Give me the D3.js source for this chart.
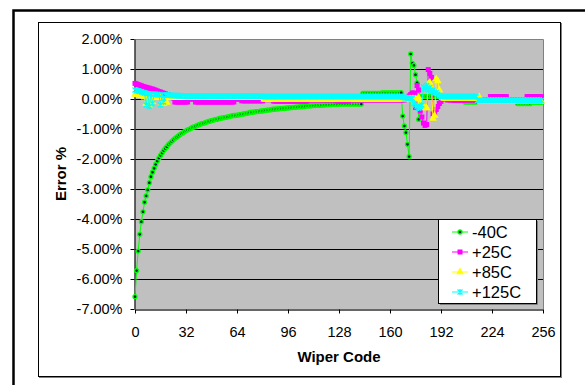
<!DOCTYPE html>
<html>
<head>
  <script src="https://d3js.org/d3.v7.min.js"></script>
  <style>
    html, body { margin: 0; padding: 0; background: #fff; overflow: hidden; }
    #chart { width: 585px; height: 385px; position: relative; }
    #chart svg { display: block; }
    .axis text { font-family: Arial, "Liberation Sans", sans-serif; font-size: 14.5px; fill: #000; }
    .axisLabel { font-family: Arial, "Liberation Sans", sans-serif; font-size: 15px; font-weight: bold; }
    .legendText { font-family: Arial, "Liberation Sans", sans-serif; font-size: 16.5px; }
  </style>
</head>
<body>
  <div id="chart"></div>
  <script>
    /*
    DATA (wiper code 0..255 is the index into each series, error in %)
    */
    var xTicks = [0, 32, 64, 96, 128, 160, 192, 224, 256];
    var yTicks = [2, 1, 0, -1, -2, -3, -4, -5, -6, -7];
    var seriesNames = ["-40C", "+25C", "+85C", "+125C"];

    var m40 = [
      -6.59,-5.72,-5.07,-4.51,-4.09,-3.76,-3.44,-3.23,-3.03,-2.79,-2.59,-2.44,-2.31,-2.18,-2.07,-1.97,
      -1.88,-1.80,-1.72,-1.65,-1.59,-1.52,-1.47,-1.42,-1.37,-1.32,-1.28,-1.24,-1.20,-1.16,-1.13,-1.09,
      -1.06,-1.03,-1.01,-0.98,-0.95,-0.93,-0.91,-0.88,-0.86,-0.84,-0.82,-0.81,-0.79,-0.77,-0.75,-0.74,
      -0.72,-0.71,-0.69,-0.68,-0.67,-0.65,-0.64,-0.63,-0.62,-0.61,-0.60,-0.59,-0.57,-0.56,-0.55,-0.55,
      -0.54,-0.53,-0.52,-0.51,-0.50,-0.49,-0.48,-0.47,-0.45,-0.44,-0.44,-0.43,-0.42,-0.42,-0.41,-0.40,
      -0.40,-0.39,-0.38,-0.37,-0.37,-0.36,-0.35,-0.34,-0.34,-0.33,-0.33,-0.32,-0.32,-0.31,-0.31,-0.30,
      -0.30,-0.29,-0.29,-0.28,-0.28,-0.27,-0.27,-0.26,-0.26,-0.26,-0.25,-0.24,-0.23,-0.23,-0.23,-0.22,
      -0.22,-0.22,-0.21,-0.21,-0.21,-0.20,-0.20,-0.20,-0.19,-0.19,-0.19,-0.19,-0.18,-0.18,-0.18,-0.18,
      -0.17,-0.17,-0.17,-0.17,-0.17,-0.17,-0.17,-0.17,-0.17,-0.17,-0.17,-0.17,-0.17,-0.17,-0.17,0.19,
      0.19,0.19,0.19,0.19,0.19,0.19,0.19,0.19,0.19,0.19,0.19,0.20,0.20,0.20,0.20,0.20,
      0.20,0.20,0.20,0.20,0.20,0.20,0.20,0.21,-0.57,-0.90,-1.12,-1.51,-1.92,1.50,1.19,1.12,
      0.81,0.54,-0.68,0.08,0.08,0.08,0.08,0.08,0.08,0.08,0.08,0.08,0.08,0.08,0.08,0.08,
      0.05,0.05,0.05,0.05,0.05,0.05,0.05,0.05,0.05,0.05,0.05,0.05,0.05,0.05,0.05,-0.10,
      -0.10,-0.10,-0.10,-0.10,-0.10,-0.10,-0.10,-0.05,-0.05,-0.05,-0.05,-0.05,-0.05,-0.05,-0.05,-0.05,
      -0.05,-0.05,-0.05,-0.05,-0.05,-0.05,-0.05,-0.05,-0.05,-0.05,-0.05,-0.05,-0.05,-0.05,-0.05,-0.05,
      -0.15,-0.15,-0.15,-0.15,-0.15,-0.15,-0.15,-0.15,-0.15,-0.12,-0.12,-0.12,-0.12,-0.12,-0.12,-0.12
    ];

    var p25 = [
      0.52,0.50,0.48,0.46,0.44,0.42,0.40,0.39,0.37,0.36,0.34,0.33,0.31,0.29,0.27,0.25,
      0.23,0.21,0.19,0.17,0.15,0.13,0.11,0.08,0.03,-0.10,-0.10,-0.10,-0.10,-0.10,-0.10,-0.10,
      -0.10,-0.10,0.00,0.00,0.00,0.00,-0.10,-0.10,-0.10,-0.10,-0.10,-0.10,-0.10,-0.10,-0.10,-0.10,
      -0.10,-0.10,-0.10,-0.10,-0.10,-0.10,-0.10,-0.10,-0.10,-0.10,-0.10,-0.10,-0.10,-0.10,-0.10,0.00,
      0.00,0.00,0.00,-0.06,-0.06,-0.06,-0.06,-0.06,-0.06,-0.06,-0.06,-0.06,-0.06,-0.06,-0.06,-0.06,
      -0.06,-0.02,-0.02,-0.02,-0.02,-0.02,-0.02,-0.07,-0.07,-0.07,-0.07,-0.07,-0.07,-0.07,-0.07,-0.07,
      -0.07,-0.07,-0.07,-0.07,-0.07,-0.07,-0.07,-0.07,-0.07,-0.07,-0.07,-0.07,-0.07,-0.03,-0.03,-0.03,
      -0.03,-0.03,-0.03,-0.03,-0.03,-0.03,-0.03,-0.03,-0.03,-0.03,-0.03,-0.03,-0.03,-0.03,-0.03,-0.07,
      -0.07,-0.07,-0.07,-0.07,-0.07,-0.07,-0.07,-0.03,-0.03,-0.03,-0.03,-0.03,-0.03,-0.03,-0.03,-0.03,
      -0.03,-0.03,-0.03,-0.03,-0.03,-0.03,-0.03,-0.03,-0.03,-0.03,-0.03,-0.03,-0.03,-0.03,-0.03,-0.03,
      -0.03,-0.03,-0.03,-0.03,-0.03,-0.03,-0.03,-0.03,-0.03,-0.03,0.02,0.05,0.10,0.15,0.20,0.20,
      -0.28,0.45,0.30,-0.40,-0.60,-0.80,-0.88,-0.85,0.98,0.85,0.72,-0.50,-0.45,-0.35,-0.25,-0.15,
      -0.08,0.00,0.03,0.02,-0.03,-0.03,-0.03,-0.03,-0.05,-0.05,-0.05,-0.05,-0.05,-0.05,-0.05,-0.05,
      -0.03,-0.03,-0.03,-0.03,-0.03,-0.03,-0.03,-0.03,-0.03,-0.03,-0.03,-0.03,-0.03,-0.03,-0.03,0.08,
      0.08,0.08,0.08,0.08,0.08,0.08,0.08,0.08,0.08,0.08,-0.03,-0.03,-0.03,-0.03,-0.03,-0.03,
      -0.03,-0.03,-0.03,-0.03,-0.03,-0.03,0.08,0.08,0.08,0.08,0.08,0.08,0.08,0.08,0.08,0.08
    ];

    var p85 = [
      0.15,0.14,0.13,0.12,0.11,0.10,0.06,-0.15,0.05,-0.20,0.05,-0.10,0.05,0.05,0.05,0.05,
      0.05,-0.12,-0.15,-0.10,-0.12,0.04,0.04,0.04,0.04,0.04,0.04,0.04,0.04,0.04,0.04,0.04,
      0.04,0.04,0.04,0.04,0.04,0.04,0.04,0.04,0.04,0.04,0.04,0.04,0.04,0.04,0.04,0.04,
      0.04,0.04,0.04,0.04,0.04,0.04,0.04,0.04,0.04,0.04,0.04,0.04,0.04,0.04,0.04,0.04,
      0.04,0.04,0.04,0.04,0.04,0.04,0.04,0.04,0.04,0.04,0.04,0.04,0.04,0.04,0.04,0.04,
      0.04,-0.02,-0.02,-0.02,-0.02,-0.02,-0.02,-0.02,-0.02,-0.02,-0.02,-0.02,-0.02,-0.02,-0.02,-0.02,
      -0.02,-0.02,-0.02,-0.02,-0.02,-0.02,-0.02,-0.02,-0.02,-0.02,-0.02,-0.02,-0.02,-0.02,-0.02,-0.02,
      -0.02,-0.02,-0.02,-0.02,-0.02,-0.02,-0.02,-0.02,-0.02,-0.02,-0.02,-0.02,-0.02,-0.02,-0.02,-0.02,
      -0.02,-0.02,-0.02,-0.02,-0.02,-0.02,-0.02,-0.02,-0.02,-0.02,-0.02,-0.02,-0.02,-0.02,-0.02,-0.02,
      -0.02,-0.02,-0.02,-0.02,-0.02,-0.02,-0.02,-0.02,-0.02,-0.02,-0.02,-0.02,-0.02,-0.02,-0.02,-0.02,
      -0.02,-0.02,-0.02,-0.02,-0.02,-0.02,0.00,0.00,0.00,0.00,0.00,0.00,0.00,0.00,0.00,0.00,
      0.00,0.00,0.05,-0.10,-0.20,-0.25,-0.30,-0.30,0.50,0.55,0.40,-0.65,-0.55,0.67,0.60,0.30,
      0.13,0.05,0.02,0.02,0.02,0.02,0.02,0.02,0.02,0.02,0.02,0.02,0.02,0.02,0.02,0.02,
      0.02,0.02,0.02,0.02,0.02,0.02,0.02,0.02,0.07,-0.08,-0.08,-0.08,-0.08,-0.08,-0.08,-0.08,
      -0.08,-0.08,-0.08,-0.08,-0.08,-0.08,-0.08,-0.08,-0.08,-0.08,-0.08,-0.08,-0.08,-0.08,-0.08,-0.08,
      -0.08,-0.08,-0.08,-0.08,-0.08,-0.08,-0.08,-0.08,-0.08,-0.08,-0.08,-0.08,-0.08,-0.08,-0.08,-0.08
    ];

    var p125 = [
      0.30,0.28,0.27,0.25,0.24,0.22,0.20,-0.20,0.18,-0.25,0.17,-0.15,0.16,0.15,0.15,0.14,
      -0.20,0.14,-0.10,0.13,0.13,0.13,0.12,0.12,0.12,0.12,0.11,0.11,0.11,0.11,0.10,0.10,
      0.09,0.09,0.09,0.09,0.09,0.09,0.09,0.09,0.09,0.09,0.09,0.09,0.09,0.09,0.09,0.09,
      0.09,0.09,0.09,0.09,0.09,0.09,0.09,0.09,0.09,0.09,0.09,0.09,0.09,0.09,0.09,0.09,
      0.09,0.09,0.09,0.09,0.09,0.09,0.09,0.09,0.09,0.09,0.09,0.09,0.09,0.09,0.09,0.09,
      0.09,0.08,0.08,0.08,0.08,0.08,0.08,0.08,0.08,0.08,0.08,0.08,0.08,0.08,0.08,0.08,
      0.08,0.08,0.08,0.08,0.08,0.08,0.08,0.08,0.08,0.08,0.08,0.08,0.08,0.08,0.08,0.08,
      0.08,0.08,0.08,0.08,0.08,0.08,0.08,0.08,0.08,0.08,0.08,0.08,0.08,0.08,0.08,0.08,
      0.08,0.08,0.08,0.08,0.08,0.08,0.08,0.08,0.08,0.08,0.08,0.08,0.08,0.08,0.08,0.08,
      0.08,0.08,0.08,0.08,0.08,0.08,0.08,0.08,0.08,0.08,0.08,0.08,0.08,0.08,0.08,0.08,
      0.08,0.08,0.08,0.08,0.08,0.08,0.08,0.08,0.06,0.05,0.04,0.03,0.02,0.02,0.02,-0.15,
      -0.20,-0.25,-0.30,-0.25,-0.20,0.40,0.35,0.45,0.30,0.38,0.25,0.30,0.20,0.22,0.15,0.12,
      0.10,0.08,0.08,0.08,0.08,0.08,0.08,0.08,0.08,0.08,0.08,0.08,0.08,0.08,0.08,0.08,
      0.08,0.08,0.08,0.08,0.08,0.08,0.08,-0.05,-0.05,-0.05,-0.05,-0.05,-0.05,-0.05,-0.05,-0.05,
      -0.05,-0.05,-0.05,-0.05,-0.05,-0.05,-0.05,-0.05,-0.05,-0.05,-0.05,-0.05,-0.05,-0.05,-0.05,-0.05,
      -0.05,-0.05,-0.05,-0.05,-0.05,-0.05,-0.05,-0.05,-0.05,-0.05,-0.05,-0.05,-0.05,-0.05,-0.05,-0.05
    ];

    /*
    SVG CANVAS
    */
    var width = 585;
    var height = 385;
    var plot = {left: 135, right: 543, top: 39, bottom: 309};

    var svg = d3.select("#chart")
      .append("svg")
      .attr("width", width)
      .attr("height", height);

    // outer frame: only its left and top edges fall inside the page
    svg.append("path")
      .attr("d", "M13.5," + height + "V10.5H" + width)
      .attr("fill", "none").attr("stroke", "#000").attr("stroke-width", 2.5);
    // chart area frame with a grey shadow
    svg.append("rect")
      .attr("x", 39.5).attr("y", 23.5).attr("width", 522).attr("height", 354)
      .attr("fill", "none").attr("stroke", "#808080");
    svg.append("rect")
      .attr("x", 38.5).attr("y", 22.5).attr("width", 522).attr("height", 354)
      .attr("fill", "#fff").attr("stroke", "#000");

    /*
    SCALES
    */
    var xScale = d3.scaleLinear().domain([0, 256]).range([plot.left, plot.right]);
    var yScale = d3.scaleLinear().domain([-7, 2]).range([plot.bottom, plot.top]);

    // plot background
    svg.append("rect")
      .attr("x", plot.left).attr("y", plot.top)
      .attr("width", plot.right - plot.left).attr("height", plot.bottom - plot.top)
      .attr("fill", "#C0C0C0");

    // gridlines
    svg.append("g").selectAll("line")
      .data(yTicks.filter(function(d) { return d < 2 && d > -7; }))
      .enter().append("line")
        .attr("x1", plot.left).attr("x2", plot.right)
        .attr("y1", function(d) { return Math.round(yScale(d)) + 0.5; })
        .attr("y2", function(d) { return Math.round(yScale(d)) + 0.5; })
        .attr("stroke", "#000");

    // plot border top / right
    svg.append("path")
      .attr("d", "M" + plot.left + "," + (plot.top + 0.5) + "H" + (plot.right + 0.5) + "V" + plot.bottom)
      .attr("fill", "none").attr("stroke", "#808080");

    /*
    AXES
    */
    var yAxis = svg.append("g")
      .attr("class", "axis")
      .attr("transform", "translate(" + (plot.left - 0.5) + ",0)")
      .call(d3.axisLeft(yScale).tickValues(yTicks).tickSize(4).tickSizeOuter(0).tickPadding(8)
        .tickFormat(function(d) { return d.toFixed(2) + "%"; }));

    var xAxis = svg.append("g")
      .attr("class", "axis")
      .attr("transform", "translate(0," + (plot.bottom + 0.5) + ")")
      .call(d3.axisBottom(xScale).tickValues(xTicks).tickSize(4).tickSizeOuter(0).tickPadding(13));

    svg.selectAll(".axis path").attr("stroke", "#333").attr("stroke-width", 1.5);
    svg.selectAll(".axis line").attr("stroke", "#000");

    svg.append("text")
      .attr("class", "axisLabel")
      .attr("x", (plot.left + plot.right) / 2)
      .attr("y", 361.5)
      .attr("text-anchor", "middle")
      .text("Wiper Code");

    svg.append("text")
      .attr("class", "axisLabel")
      .attr("transform", "translate(66," + ((plot.top + plot.bottom) / 2) + ") rotate(-90)")
      .attr("text-anchor", "middle")
      .text("Error %");

    /*
    SERIES
    */
    var starPath = "M-2.5,-2.5L2.5,2.5M-2.5,2.5L2.5,-2.5M0,-3L0,3";
    var styles = [
      {color: "#00FF00", marker: "circle"},
      {color: "#FF00FF", marker: "square"},
      {color: "#FFFF00", marker: "triangle"},
      {color: "#00FFFF", marker: "star"}
    ];
    var allSeries = [m40, p25, p85, p125];

    function drawMarker(sel, style) {
      if (style.marker == "circle") {
        sel.append("circle").attr("r", 2).attr("fill", "#002040")
          .attr("stroke", style.color).attr("stroke-width", 1.3);
      } else if (style.marker == "square") {
        sel.append("rect").attr("x", -2.5).attr("y", -2.5).attr("width", 5).attr("height", 5)
          .attr("fill", style.color);
      } else if (style.marker == "triangle") {
        sel.append("path").attr("d", d3.symbol(d3.symbolTriangle).size(26)())
          .attr("fill", style.color);
      } else {
        sel.append("path").attr("d", starPath)
          .attr("fill", "none").attr("stroke", style.color).attr("stroke-width", 1.3);
      }
    }

    var line = d3.line()
      .x(function(d, i) { return xScale(i); })
      .y(function(d) { return yScale(d); });

    allSeries.forEach(function(values, k) {
      var g = svg.append("g");
      g.append("path")
        .datum(values)
        .attr("d", line)
        .attr("fill", "none")
        .attr("stroke", styles[k].color)
        .attr("stroke-width", 1);
      g.selectAll("g")
        .data(values)
        .enter().append("g")
          .attr("transform", function(d, i) { return "translate(" + xScale(i) + "," + yScale(d) + ")"; })
          .each(function() { drawMarker(d3.select(this), styles[k]); });
    });

    /*
    LEGEND
    */
    svg.append("path")
      .attr("d", "M440,304.5H537.5V221")
      .attr("fill", "none").attr("stroke", "#808080");
    svg.append("rect")
      .attr("x", 438.5).attr("y", 219.5).attr("width", 98).attr("height", 84)
      .attr("fill", "#fff").attr("stroke", "#000");

    var legend = svg.append("g").selectAll("g")
      .data(seriesNames)
      .enter().append("g")
        .attr("transform", function(d, i) { return "translate(0," + (232 + i * 20) + ")"; });

    legend.append("line")
      .attr("x1", 452).attr("x2", 468).attr("y1", 0).attr("y2", 0)
      .attr("stroke", function(d, i) { return styles[i].color; });
    legend.append("g")
      .attr("transform", "translate(460,0)")
      .each(function(d, i) { drawMarker(d3.select(this), styles[i]); });
    legend.append("text")
      .attr("class", "legendText")
      .attr("x", 472)
      .attr("y", 6)
      .text(function(d) { return d; });
  </script>
</body>
</html>
